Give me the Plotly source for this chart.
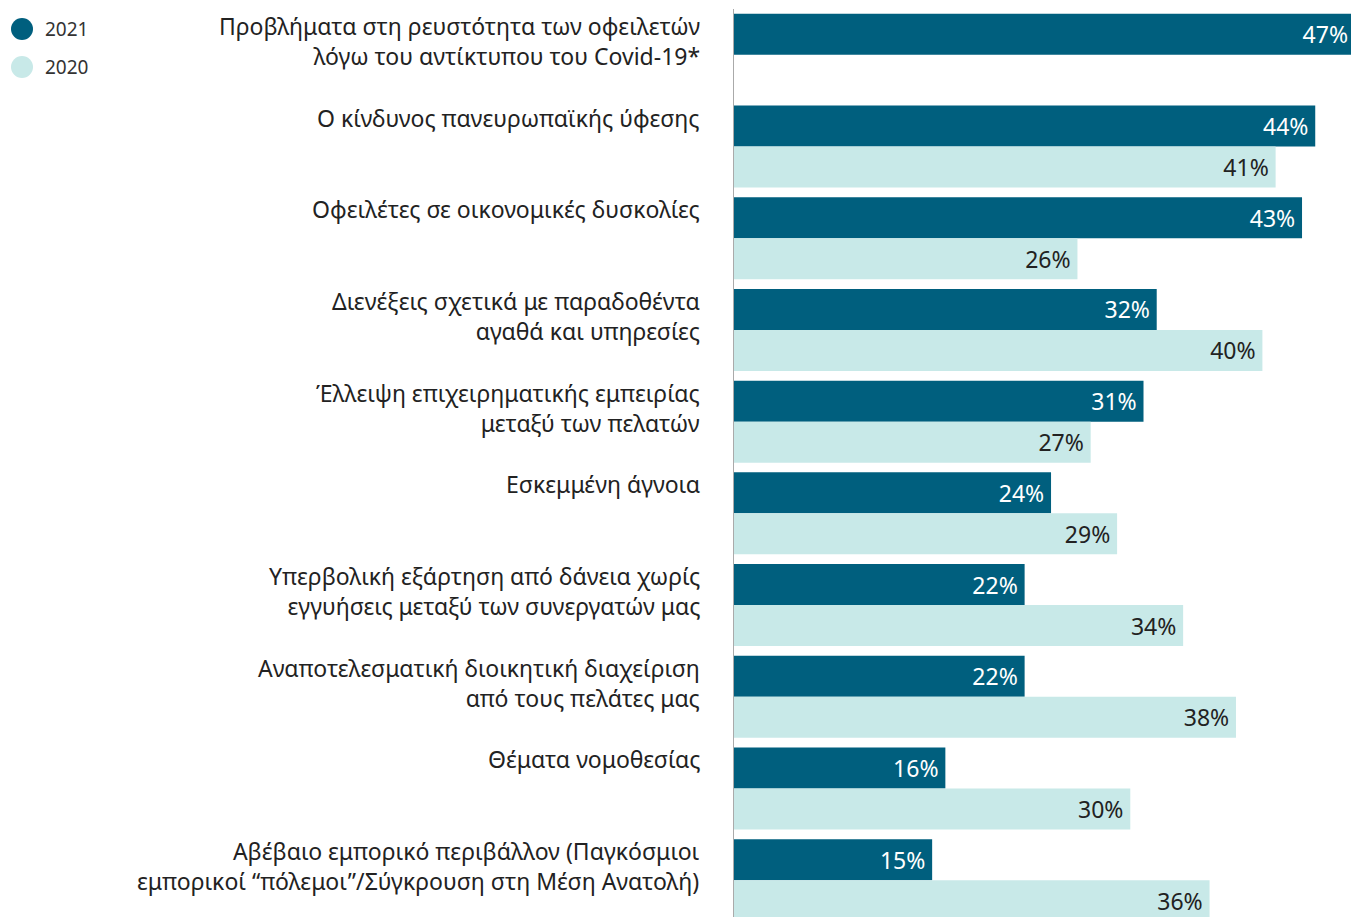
import plotly.graph_objects as go

categories = [
    "Προβλήματα στη ρευστότητα των οφειλετών<br>λόγω του αντίκτυπου του Covid-19*",
    "Ο κίνδυνος πανευρωπαϊκής ύφεσης",
    "Οφειλέτες σε οικονομικές δυσκολίες",
    "Διενέξεις σχετικά με παραδοθέντα<br>αγαθά και υπηρεσίες",
    "Έλλειψη επιχειρηματικής εμπειρίας<br>μεταξύ των πελατών",
    "Εσκεμμένη άγνοια",
    "Υπερβολική εξάρτηση από δάνεια χωρίς<br>εγγυήσεις μεταξύ των συνεργατών μας",
    "Αναποτελεσματική διοικητική διαχείριση<br>από τους πελάτες μας",
    "Θέματα νομοθεσίας",
    "Αβέβαιο εμπορικό περιβάλλον (Παγκόσμιοι<br>εμπορικοί “πόλεμοι”/Σύγκρουση στη Μέση Ανατολή)",
]
ids = [f"c{i}" for i in range(len(categories))]
series_names = ["2021", "2020"]
values_2021 = [47, 44, 43, 32, 31, 24, 22, 22, 16, 15]
values_2020 = [None, 41, 26, 40, 27, 29, 34, 38, 30, 36]

dark = "#005F7E"
light = "#C8E9E8"
text_dark = "#222222"
font_family = "Noto Sans, Open Sans, sans-serif"

# layout geometry in page pixels (body margin removed below)
FW, FH = 1360, 917
L, R, T, B = 734, 0, 9, 0
W, H = FW - L - R, FH - T - B
OFF = 0


def fx(sx):
    return (sx - OFF - L) / W


def fy(sy):
    return 1 - (sy - OFF - T) / H


fig = go.Figure()
for name, vals, col, tcol in [
    (series_names[0], values_2021, dark, "white"),
    (series_names[1], values_2020, light, text_dark),
]:
    fig.add_trace(go.Bar(
        name=name, y=ids, x=vals, orientation="h",
        marker=dict(color=col, line=dict(width=0)),
        text=[(f"{v}%\u2009" if v is not None else "") for v in vals],
        textposition="inside", insidetextanchor="end",
        textfont=dict(color=tcol, size=23, family=font_family),
        constraintext="none",
        hoverinfo="skip",
    ))

for cid, lab in zip(ids, categories):
    fig.add_annotation(
        x=0, xref="paper", y=cid, yref="y",
        xanchor="right", yanchor="top", xshift=-32, yshift=47,
        text=lab, showarrow=False, align="right",
        font=dict(size=23, color=text_dark, family=font_family),
    )

legend_cols = [dark, light]
for i, (nm, col) in enumerate(zip(series_names, legend_cols)):
    cy = 29 + 38 * i
    fig.add_shape(type="circle", xref="paper", yref="paper",
                  x0=fx(11), x1=fx(33), y0=fy(cy + 11), y1=fy(cy - 11),
                  fillcolor=col, line=dict(width=0))
    fig.add_annotation(x=fx(43), xref="paper", y=fy(cy), yref="paper",
                       xanchor="left", yanchor="middle", text=nm, showarrow=False,
                       font=dict(size=19, color="#333333", family=font_family))

fig.update_layout(
    width=FW, height=FH,
    margin=dict(l=L, r=R, t=T, b=B, pad=0),
    barmode="group", bargap=0.106, bargroupgap=0,
    showlegend=False,
    plot_bgcolor="white", paper_bgcolor="white",
    xaxis=dict(range=[0, W / 13.21], visible=False, fixedrange=True),
    yaxis=dict(type="category", categoryorder="array", categoryarray=ids,
               range=[9.402, -0.5], showticklabels=False, showgrid=False,
               zeroline=False, showline=True, linecolor="#aaaaaa", linewidth=1,
               ticks=""),
)

fig.write_html("out.html", config={"displayModeBar": False},
               post_script="document.body.style.margin='0';document.body.style.overflow='hidden';")
